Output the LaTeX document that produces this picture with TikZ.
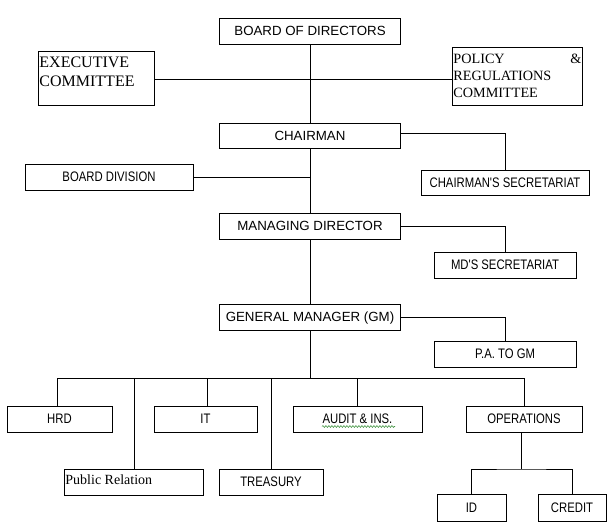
\documentclass[tikz,border=0pt]{standalone}
\usepackage{fontspec}
\setmainfont{Liberation Serif}
\setsansfont{Liberation Sans}
\newfontfamily\condsans[FakeStretch=0.82]{Liberation Sans}
\usetikzlibrary{decorations.pathmorphing}
\definecolor{spellgreen}{RGB}{70,150,70}
\newcommand{\sq}{{\char"27}}
\begin{document}
\begin{tikzpicture}[x=1pt,y=-1pt,
  line width=0.9pt,
  box/.style={draw, line width=0.9pt, rectangle, inner sep=0pt},
  bigtxt/.style={font=\sffamily\fontsize{13.3}{15}\selectfont, text height=9.5pt, text depth=0pt},
  smalltxt/.style={font=\condsans\fontsize{13.8}{15}\selectfont, text height=9.9pt, text depth=0pt},
  link/.style={draw, line width=0.9pt}]
\useasboundingbox (0,0) rectangle (613,528);
\fill[white] (0,0) rectangle (613,528);
% top level
\node[box, bigtxt, minimum width=181pt, minimum height=26pt] (bod) at (310,31) {BOARD OF DIRECTORS};
\node[box, minimum width=116pt, minimum height=54pt] (exec) at (96,78) {};
\node[anchor=north west, align=left, inner sep=0pt, font=\fontsize{16}{19}\selectfont] (execT) at (39,56) {EXECUTIVE\\COMMITTEE};
\node[box, minimum width=130pt, minimum height=58pt] (policy) at (517,76) {};
\node[anchor=north west, align=left, inner sep=0pt, font=\fontsize{14.2}{17}\selectfont] (policyT) at (453,54) {\makebox[128pt][l]{POLICY\hfill\&}\\REGULATIONS\\COMMITTEE};
\node[box, bigtxt, minimum width=181pt, minimum height=25pt] (chair) at (310,135.5) {CHAIRMAN};
\node[box, smalltxt, minimum width=168pt, minimum height=25pt] (csec) at (505,182.5) {CHAIRMAN\sq S SECRETARIAT};
\node[box, smalltxt, minimum width=168pt, minimum height=26pt] (bdiv) at (109,177) {BOARD DIVISION};
\node[box, bigtxt, minimum width=181pt, minimum height=26pt] (md) at (310,226) {MANAGING DIRECTOR};
\node[box, smalltxt, minimum width=142pt, minimum height=26pt] (mdsec) at (505,265) {MD\sq S SECRETARIAT};
\node[box, bigtxt, minimum width=181pt, minimum height=26pt] (gm) at (310,317) {GENERAL MANAGER (GM)};
\node[box, smalltxt, minimum width=142pt, minimum height=26pt] (pa) at (505,354) {P.A. TO GM};
% departments
\node[box, smalltxt, minimum width=105pt, minimum height=26pt] (hrd) at (59.5,419) {HRD};
\node[box, smalltxt, minimum width=103pt, minimum height=26pt] (it) at (205.5,419) {IT};
\node[box, smalltxt, minimum width=129pt, minimum height=26pt] (audit) at (357.5,419) {AUDIT \& INS.};
\node[box, smalltxt, minimum width=116pt, minimum height=26pt] (ops) at (524,419) {OPERATIONS};
\node[box, minimum width=139pt, minimum height=26pt] (pr) at (133.5,482) {};
\node[anchor=base west, inner sep=0pt, font=\fontsize{14}{16}\selectfont] (prT) at (65,484.3) {Public Relation};
\node[box, smalltxt, minimum width=104pt, minimum height=26pt] (treas) at (271,482) {TREASURY};
\node[box, smalltxt, minimum width=69pt, minimum height=27pt] (id) at (471.5,507.5) {ID};
\node[box, smalltxt, minimum width=68pt, minimum height=27pt] (credit) at (572,507.5) {CREDIT};
% spell-check underline
\draw[spellgreen, line width=0.6pt, decorate, decoration={snake, amplitude=0.9pt, segment length=3pt}] (322,426.5) -- (395,426.5);
% coordinates
\coordinate (bus) at (310,378);
\coordinate (opsj) at (521,469);
% connectors
\draw[link] (bod.south) -- (chair.north);
\draw[link] (chair.south) -- (md.north);
\draw[link] (md.south) -- (gm.north);
\draw[link] (gm.south) -- (bus);
\draw[link] (exec.east |- 0,79) -- (policy.west |- 0,79);
\draw[link] (bdiv.east) -- (bdiv.east -| bod.south);
\draw[link] (chair.east |- 0,133) -| (csec.north);
\draw[link] (md.east) -| (mdsec.north);
\draw[link] (gm.east) -| (pa.north);
\draw[link] (57,378) -- (ops.north |- bus);
\draw[link] (57,378) -- (57,406);
\draw[link] (134,378) -- (134,469);
\draw[link] (207,378) -- (207,406);
\draw[link] (treas.north |- bus) -- (treas.north);
\draw[link] (audit.north |- bus) -- (audit.north);
\draw[link] (ops.north |- bus) -- (ops.north);
\draw[link] (opsj |- ops.south) -- (opsj);
\draw[link] (id.north) |- (opsj) -| (credit.north);
\end{tikzpicture}
\end{document}
